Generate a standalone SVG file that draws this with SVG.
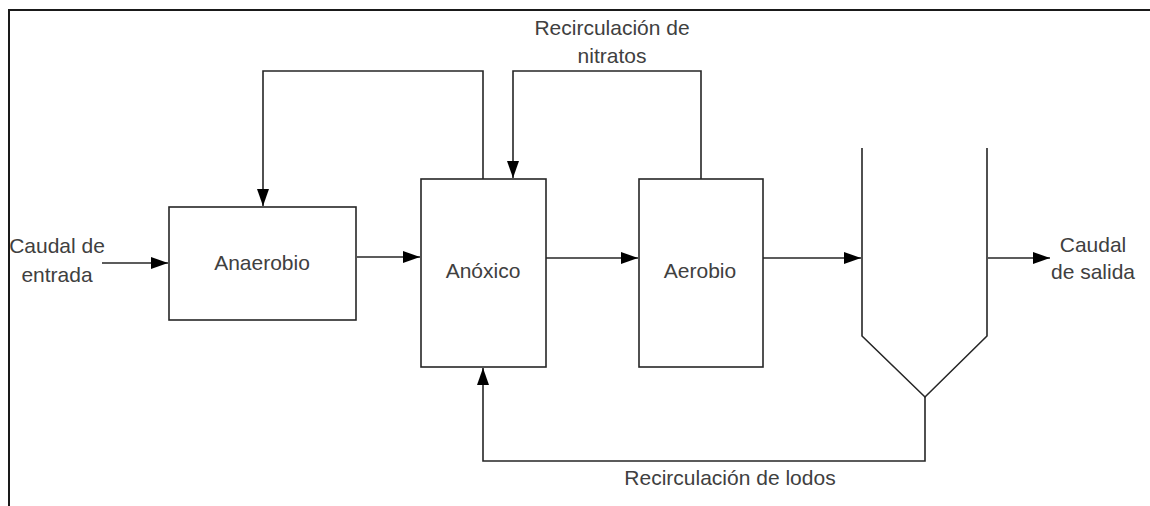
<svg xmlns="http://www.w3.org/2000/svg" width="1150" height="506" viewBox="0 0 1150 506">
  <style>
    .box { fill: #ffffff; stroke: #262626; stroke-width: 1.6; }
    .wire { fill: none; stroke: #262626; stroke-width: 1.6; }
    .arr { marker-end: url(#ah); }
    .lbl { font-family: "Liberation Sans", Arial, sans-serif; font-size: 21px; fill: #404040; text-anchor: middle; }
    .frame { fill: none; stroke: #1a1a1a; stroke-width: 2; }
  </style>
  <defs>
    <marker id="ah" markerUnits="userSpaceOnUse" markerWidth="18" markerHeight="12" refX="17" refY="6" orient="auto">
      <path d="M0,0 L17,6 L0,12 Z" fill="#000000"/>
    </marker>
  </defs>
  <rect width="1150" height="506" fill="#ffffff"/>
  <path class="frame" d="M9,506 L9,10 L1150,10"/>

  <g id="connectors">
    <path class="wire arr" d="M102,263 L168,263"/>
    <path class="wire arr" d="M357,257 L420,257"/>
    <path class="wire arr" d="M546,258 L638,258"/>
    <path class="wire arr" d="M763,258 L861,258"/>
    <path class="wire arr" d="M988,258 L1050,258"/>
    <path class="wire arr" d="M483,179 L483,71 L263,71 L263,206"/>
    <path class="wire arr" d="M701,179 L701,71 L513,71 L513,178"/>
    <path class="wire arr" d="M925,397 L925,461 L483,461 L483,368"/>
  </g>

  <g id="anaerobio">
    <rect class="box" x="169" y="207" width="187" height="113"/>
    <text class="lbl" x="262" y="270">Anaerobio</text>
  </g>
  <g id="anoxico">
    <rect class="box" x="421" y="179" width="125" height="188"/>
    <text class="lbl" x="483" y="278">Anóxico</text>
  </g>
  <g id="aerobio">
    <rect class="box" x="639" y="179" width="124" height="188"/>
    <text class="lbl" x="700" y="278">Aerobio</text>
  </g>
  <g id="clarificador">
    <path class="wire" d="M862,148 L862,336 L925,397 L987,336 L987,148"/>
  </g>

  <g id="labels">
    <text class="lbl" x="57" y="253">Caudal de</text>
    <text class="lbl" x="57" y="282">entrada</text>
    <text class="lbl" x="1093" y="252">Caudal</text>
    <text class="lbl" x="1093" y="279">de salida</text>
    <text class="lbl" x="612" y="35">Recirculación de</text>
    <text class="lbl" x="612" y="63">nitratos</text>
    <text class="lbl" x="730" y="485">Recirculación de lodos</text>
  </g>
</svg>
